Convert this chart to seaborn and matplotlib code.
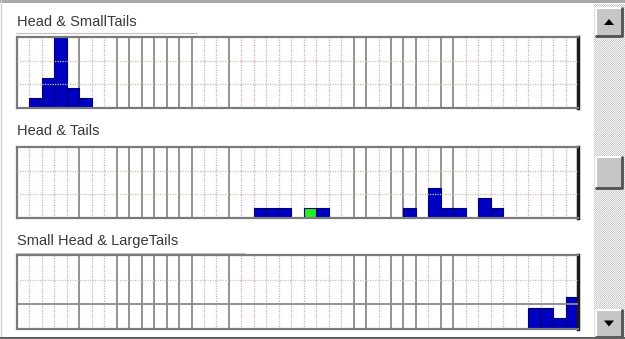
import numpy as np
import pandas as pd
import seaborn as sns
import matplotlib.pyplot as plt
from matplotlib.patches import Rectangle, Polygon

# histogram data: 45 bins, counts per bin
n_bins = 45
titles = ["Head & SmallTails", "Head & Tails", "Small Head & LargeTails"]

bins_1 = [1, 2, 3, 4, 5]
counts_1 = [1, 3, 7, 2, 1]
marks_1 = ["b", "b", "b", "b", "b"]

bins_2 = [19, 20, 21, 23, 24, 31, 33, 34, 35, 37, 38]
counts_2 = [1, 1, 1, 1, 1, 1, 3, 1, 1, 2, 1]
marks_2 = ["b", "b", "b", "g", "b", "b", "b", "b", "b", "b", "b"]

bins_3 = [41, 42, 43, 44]
counts_3 = [2, 2, 1, 3]
marks_3 = ["b", "b", "b", "b"]

# bin boundaries drawn as solid gray lines (others dotted)
solid_edges = [5, 8, 9, 10, 11, 12, 13, 14, 17, 27, 28, 30, 31, 32, 34, 35]

sns.set_style("white")
plt.rcParams['font.family'] = ['Liberation Sans', 'DejaVu Sans']

W, H = 625, 339
fig = plt.figure(figsize=(W / 100, H / 100), dpi=100)
fig.patch.set_facecolor("white")

palette = {"b": "#0000c0", "g": "#22f022"}
panels = [
    (bins_1, counts_1, marks_1, 37, 108, 22, (16, 197, 33), False),
    (bins_2, counts_2, marks_2, 147, 218, 131, None, False),
    (bins_3, counts_3, marks_3, 255, 329, 241, (16, 245, 253), True),
]

x0, x1 = 17, 578
for (b, c, m, top, bot, ty, uline, solid_h), title in zip(panels, titles):
    ax = fig.add_axes([x0 / W, 1 - bot / H, (x1 - x0) / W, (bot - top) / H])
    df = pd.DataFrame({"bin": b, "count": c, "mark": m})
    sns.barplot(data=df, x="bin", y="count", hue="mark", palette=palette,
                order=list(range(n_bins)), width=1, dodge=False, legend=False,
                saturation=1, edgecolor="#000070", linewidth=0.8, zorder=2, ax=ax)
    ax.set_xlim(-0.5, n_bins - 0.5)
    ax.set_ylim(0, 7)
    ax.set_xticks([])
    ax.set_yticks([])
    ax.set_xlabel("")
    ax.set_ylabel("")

    # vertical grid lines at bin edges
    for e in range(1, n_bins):
        xe = e - 0.5
        if e in solid_edges:
            ax.axvline(xe, color="#8a8a8a", lw=1.3, zorder=1)
        else:
            ax.axvline(xe, color="#f0a8b8", lw=0.9, ls=(0, (1, 3)), zorder=1)
            ax.axvline(xe, color="#a8b0f0", lw=0.9, ls=(2, (1, 3)), zorder=1)

    # horizontal grid lines at thirds
    for k, yh in enumerate([7 / 3, 14 / 3]):
        if solid_h and k == 0:
            ax.axhline(yh, color="#8a8a8a", lw=1.3, zorder=3)
        else:
            ax.axhline(yh, color="#a8e0a8", lw=0.9, ls=(0, (1, 3)), zorder=3)
            ax.axhline(yh, color="#f0a8b8", lw=0.9, ls=(2, (1, 3)), zorder=3)

    for s in ["top", "left", "bottom"]:
        ax.spines[s].set_color("#7a7a7a")
        ax.spines[s].set_linewidth(1.6)
    ax.spines["right"].set_color("#1a1a1a")
    ax.spines["right"].set_linewidth(2.5)

    fig.text(x0 / W, 1 - ty / H, title, fontsize=10.5, color="#383838",
             ha="left", va="center")
    if uline:
        fig.add_artist(plt.Line2D([uline[0] / W, uline[1] / W],
                                  [1 - uline[2] / H, 1 - uline[2] / H],
                                  color="#c0c0c0", lw=0.8))

# window borders
fig.add_artist(Rectangle((0, 1 - 3 / H), 1, 3 / H, transform=fig.transFigure,
                         facecolor="#a8a8a8", edgecolor="none"))
fig.add_artist(plt.Line2D([1 / W, 1 / W], [0, 1], color="#d0d0d0", lw=1))
fig.add_artist(plt.Line2D([0, 1], [1.5 / H, 1.5 / H], color="#606060", lw=1.5))

# scrollbar
sx = fig.add_axes([594 / W, 0, 31 / W, 1])
sx.set_xlim(594, 625)
sx.set_ylim(H, 0)
sx.axis("off")
yy, xx = np.indices((H - 8, 31))
checker = (yy + xx) % 2
sx.imshow(checker, cmap=plt.matplotlib.colors.ListedColormap(["#f6f6f6", "#cacaca"]),
          extent=(594, 625, H, 4), interpolation="nearest", aspect="auto", zorder=0)


def button(y_top, y_bot, arrow=None):
    sx.add_patch(Rectangle((596, y_top), 26, y_bot - y_top, facecolor="#c6c6c6",
                           edgecolor="none", zorder=2))
    sx.plot([596, 596, 622], [y_bot, y_top, y_top], color="white", lw=1.5, zorder=3)
    sx.plot([596, 622, 622], [y_bot, y_bot, y_top], color="#505050", lw=2, zorder=3)
    if arrow == "up":
        cy = (y_top + y_bot) / 2
        sx.add_patch(Polygon([[604, cy + 3], [614, cy + 3], [609, cy - 3]],
                             facecolor="black", edgecolor="none", zorder=4))
    elif arrow == "down":
        cy = (y_top + y_bot) / 2
        sx.add_patch(Polygon([[604, cy - 3], [614, cy - 3], [609, cy + 3]],
                             facecolor="black", edgecolor="none", zorder=4))


button(8, 36, "up")
button(157, 188)
button(310, 337, "down")

fig.savefig("out.png", dpi=100)
